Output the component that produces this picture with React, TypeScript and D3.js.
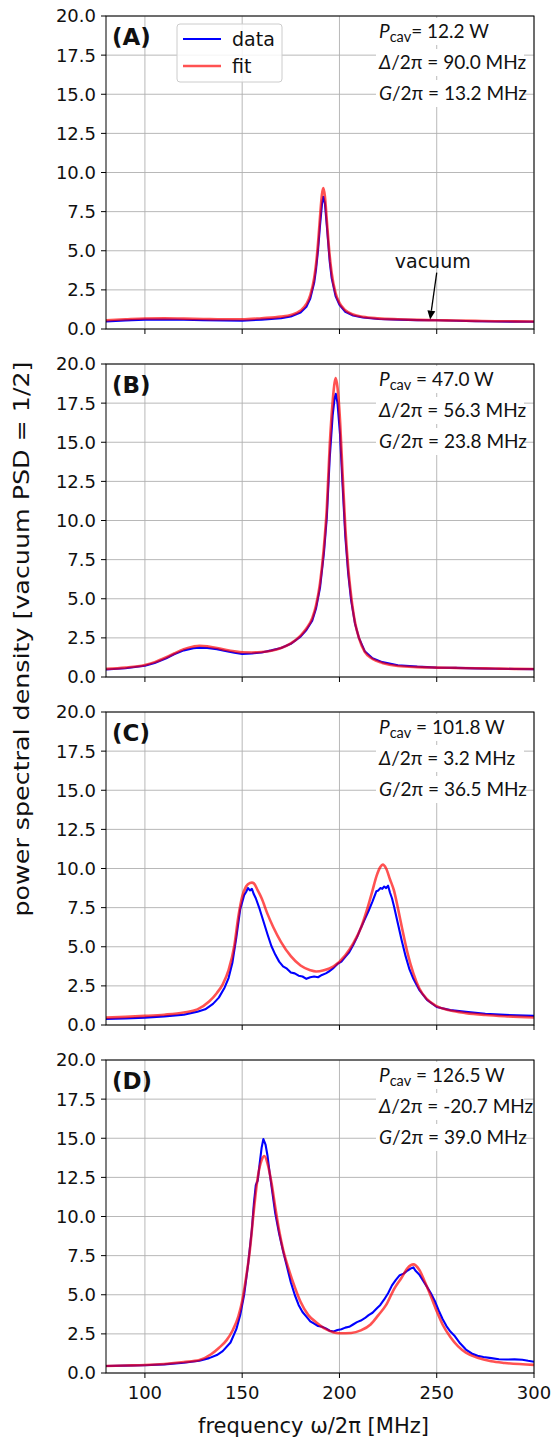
import React from 'react';
import * as d3 from 'd3';

// ---------- data ----------
const xTicks = [100, 150, 200, 250, 300];
const yTicks = [0, 2.5, 5, 7.5, 10, 12.5, 15, 17.5, 20];
const panelLabels = ['(A)', '(B)', '(C)', '(D)'];
const pcavValues = ['12.2', '47.0', '101.8', '126.5'];
const deltaValues = ['90.0', '56.3', '3.2', '-20.7'];
const gValues = ['13.2', '23.8', '36.5', '39.0'];

const fitFreqA = [80, 90, 100, 110, 120, 130, 140, 150, 160, 170, 175, 180, 183, 185, 187, 188, 189, 190, 191, 191.7, 192.5, 193.5, 195, 196, 198, 200, 203, 207, 212, 220, 230, 240, 250, 260, 270, 280, 290, 300];
const fitA = [0.56, 0.62, 0.67, 0.68, 0.66, 0.64, 0.62, 0.62, 0.69, 0.79, 0.9, 1.18, 1.6, 2.16, 3.26, 4.19, 5.5, 7.15, 8.6, 9.0, 8.5, 6.95, 4.65, 3.58, 2.3, 1.67, 1.2, 0.93, 0.78, 0.68, 0.62, 0.58, 0.56, 0.54, 0.52, 0.5, 0.49, 0.48];
const dataFreqA = fitFreqA;
const dataA = [0.48, 0.55, 0.6, 0.61, 0.59, 0.56, 0.54, 0.53, 0.6, 0.69, 0.8, 1.05, 1.42, 1.95, 2.95, 3.85, 5.05, 6.6, 7.95, 8.45, 8.05, 6.6, 4.3, 3.25, 2.1, 1.55, 1.1, 0.86, 0.73, 0.64, 0.6, 0.57, 0.56, 0.53, 0.5, 0.48, 0.47, 0.46];

const fitFreqB = [80, 90, 100, 105, 111, 115, 120, 125, 128, 132, 137, 142, 146, 150, 155, 160, 165, 170, 175, 180, 183, 186, 188, 190, 192, 193.5, 195, 196.5, 197.5, 198.1, 199, 200.3, 201.5, 203, 204.5, 206, 208, 210, 213, 217, 222, 230, 240, 250, 260, 270, 280, 290, 300];
const fitB = [0.52, 0.6, 0.77, 0.95, 1.26, 1.5, 1.78, 1.95, 2.0, 1.97, 1.85, 1.72, 1.64, 1.58, 1.57, 1.6, 1.68, 1.85, 2.15, 2.65, 3.1, 3.75, 4.6, 6.0, 8.3, 10.8, 14.8, 17.6, 18.8, 19.1, 18.5, 16.4, 13.3, 9.6, 7.0, 5.2, 3.5, 2.5, 1.6, 1.15, 0.9, 0.7, 0.63, 0.6, 0.58, 0.56, 0.54, 0.52, 0.51];
const dataFreqB = fitFreqB;
const dataB = [0.48, 0.56, 0.72, 0.9, 1.2, 1.45, 1.7, 1.84, 1.87, 1.85, 1.78, 1.65, 1.55, 1.47, 1.5, 1.57, 1.7, 1.85, 2.12, 2.58, 3.0, 3.6, 4.4, 5.7, 7.9, 10.2, 14.0, 16.7, 17.8, 18.1, 17.5, 15.5, 12.5, 9.0, 6.6, 4.9, 3.4, 2.5, 1.65, 1.2, 0.95, 0.75, 0.66, 0.6, 0.58, 0.55, 0.53, 0.51, 0.5];

const fitFreqC = [80, 90, 100, 110, 120, 127, 133, 137, 140, 143, 146, 148, 150, 152, 154, 155, 156, 158, 160, 163, 166, 170, 175, 180, 185, 188, 192, 197, 203, 207, 211, 214, 217, 219, 221, 222.3, 224, 226, 228, 230, 232, 235, 238, 241, 245, 250, 257, 265, 275, 285, 300];
const fitC = [0.47, 0.52, 0.58, 0.66, 0.8, 1.0, 1.5, 2.05, 2.6, 3.5, 5.1, 6.9, 8.2, 8.85, 9.08, 9.1, 9.05, 8.6, 8.1, 7.1, 6.25, 5.3, 4.4, 3.8, 3.5, 3.42, 3.5, 3.75, 4.45, 5.2, 6.2, 7.3, 8.6, 9.5, 10.1, 10.25, 10.0, 9.3, 8.6, 7.5, 6.3, 4.6, 3.3, 2.35, 1.65, 1.2, 0.92, 0.76, 0.64, 0.56, 0.48];
const dataFreqC = [80, 90, 100, 110, 120, 127, 131, 135, 138, 141, 143, 145, 147, 149, 151, 152, 153, 154, 155, 156, 157, 159, 161, 163, 165, 167, 169, 171, 173, 175, 177, 179, 181, 183, 185, 187, 189, 191, 193, 195, 197, 199, 201, 203, 205, 207, 209, 211, 213, 215, 217, 219, 220, 221, 222, 223, 224, 225, 226, 227, 228, 230, 232, 234, 236, 238, 241, 245, 250, 257, 265, 275, 285, 300];
const dataC = [0.38, 0.42, 0.47, 0.55, 0.66, 0.85, 1.0, 1.35, 1.75, 2.4, 3.0, 4.0, 5.6, 7.4, 8.3, 8.5, 8.75, 8.6, 8.7, 8.35, 8.1, 7.4, 6.6, 5.8, 5.05, 4.5, 4.05, 3.75, 3.6, 3.35, 3.3, 3.15, 3.1, 2.95, 3.05, 3.1, 3.05, 3.2, 3.3, 3.45, 3.65, 3.9, 4.05, 4.35, 4.65, 5.1, 5.6, 6.2, 6.75, 7.3, 7.9, 8.55, 8.6, 8.75, 8.7, 8.85, 8.75, 8.9, 8.45, 8.1, 7.6, 6.5, 5.4, 4.4, 3.55, 2.95, 2.25, 1.6, 1.15, 0.95, 0.84, 0.72, 0.65, 0.58];

const fitFreqD = [80, 90, 100, 110, 120, 128, 134, 138, 142, 145, 148, 150, 152, 154, 156, 158, 160, 161.4, 163, 165, 167, 169, 171, 174, 177, 180, 184, 188, 193, 200, 206, 211, 216, 220, 224, 228, 232, 235, 238, 241, 244, 247, 250, 253, 257, 261, 265, 271, 278, 285, 300];
const fitD = [0.45, 0.48, 0.51, 0.58, 0.7, 0.83, 1.2, 1.6, 2.1, 2.7, 3.6, 4.6, 6.1, 7.9, 10.4, 12.5, 13.6, 13.87, 13.4, 12.2, 10.6, 9.1, 7.9, 6.6, 5.5, 4.55, 3.7, 3.25, 2.8, 2.54, 2.56, 2.72, 3.1, 3.7, 4.35, 5.35, 6.1, 6.7, 6.94, 6.6, 5.8, 4.9, 3.95, 3.1, 2.3, 1.7, 1.3, 0.97, 0.75, 0.64, 0.52];
const dataFreqD = [80, 90, 100, 110, 120, 128, 133, 137, 140, 144, 147, 149, 151, 153, 155, 156, 157, 158, 159, 160, 160.9, 162, 163, 164, 165, 167, 169, 171, 173, 175, 177, 179, 181, 183, 185, 187, 189, 191, 193, 195, 197, 199, 201, 203, 205, 207, 209, 211, 213, 215, 217, 219, 221, 223, 225, 227, 229, 231, 233, 235, 237, 238, 239, 241, 243, 245, 247, 249, 251, 253, 255, 257, 259, 262, 265, 268, 271, 274, 278, 282, 286, 290, 294, 297, 300];
const dataD = [0.45, 0.47, 0.5, 0.55, 0.65, 0.78, 0.95, 1.15, 1.4, 1.95, 2.8, 3.7, 5.0, 6.9, 9.2, 10.8, 12.0, 12.3, 13.4, 14.4, 14.95, 14.6, 13.9, 12.9, 12.0, 10.2, 8.9, 7.8, 6.8, 5.8, 5.0, 4.35, 3.9, 3.6, 3.3, 3.15, 3.0, 2.95, 2.85, 2.7, 2.65, 2.75, 2.8, 2.9, 2.95, 3.1, 3.25, 3.35, 3.5, 3.7, 3.85, 4.1, 4.35, 4.7, 5.1, 5.6, 5.95, 6.25, 6.35, 6.55, 6.7, 6.75, 6.55, 6.3, 5.9, 5.5, 5.1, 4.6, 4.0, 3.45, 3.0, 2.65, 2.4, 1.9, 1.5, 1.25, 1.1, 1.02, 0.95, 0.88, 0.86, 0.87, 0.85, 0.78, 0.72];

// ---------- layout ----------
const W = 553;
const H = 1440;
const left = 106;
const right = 534;
const panelTops = [16, 364, 712, 1060];
const panelH = 313;
const tickFont = 'DejaVu Sans';
const annoFont = 'Lato';
const ink = '#111';

const panels = [
  { dataF: dataFreqA, data: dataA, fitF: fitFreqA, fit: fitA, eq: '= ' },
  { dataF: dataFreqB, data: dataB, fitF: fitFreqB, fit: fitB, eq: ' = ' },
  { dataF: dataFreqC, data: dataC, fitF: fitFreqC, fit: fitC, eq: ' = ' },
  { dataF: dataFreqD, data: dataD, fitF: fitFreqD, fit: fitD, eq: ' = ' },
];

const x = d3.scaleLinear().domain([80, 300]).range([left, right]);

function Panel({ i }: { i: number }) {
  const top = panelTops[i];
  const p = panels[i];
  const y = d3.scaleLinear().domain([0, 20]).range([top + panelH, top]);
  const fitLine = d3
    .line<number>()
    .x((_, k) => x(p.fitF[k]))
    .y((d) => y(d))
    .curve(d3.curveMonotoneX);
  const dataLine = d3
    .line<number>()
    .x((_, k) => x(p.dataF[k]))
    .y((d) => y(d));
  const clipId = `clip${i}`;
  const annoX = 379;
  const lineY = [top + 22, top + 53, top + 84];
  return (
    <g>
      <defs>
        <clipPath id={clipId}>
          <rect x={left} y={top} width={right - left} height={panelH} />
        </clipPath>
      </defs>
      {xTicks.map((t) => (
        <line key={'gx' + t} x1={x(t)} x2={x(t)} y1={top} y2={top + panelH} stroke="#b0b0b0" strokeWidth={0.9} />
      ))}
      {yTicks.map((t) => (
        <line key={'gy' + t} x1={left} x2={right} y1={y(t)} y2={y(t)} stroke="#b0b0b0" strokeWidth={0.9} />
      ))}
      {lineY.map((ly, k) => (
        <rect key={'bx' + k} x={annoX - 3} y={ly - 20} width={148} height={27} fill="white" />
      ))}
      <g clipPath={`url(#${clipId})`}>
        <path d={dataLine(p.data) || ''} fill="none" stroke="#0000ff" strokeWidth={2.1} strokeLinejoin="round" />
        <path d={fitLine(p.fit) || ''} fill="none" stroke="red" strokeOpacity={0.68} strokeWidth={2.6} />
      </g>
      <rect x={left} y={top} width={right - left} height={panelH} fill="none" stroke="black" strokeWidth={1} />
      {yTicks.map((t) => (
        <g key={'yt' + t}>
          <line x1={left - 5} x2={left} y1={y(t)} y2={y(t)} stroke="black" strokeWidth={1} />
          <text x={left - 10} y={y(t)} dy="0.36em" textAnchor="end" fontFamily={tickFont} fontSize={18} fill={ink}>
            {d3.format('.1f')(t)}
          </text>
        </g>
      ))}
      {xTicks.map((t) => (
        <g key={'xt' + t}>
          <line x1={x(t)} x2={x(t)} y1={top + panelH} y2={top + panelH + 5} stroke="black" strokeWidth={1} />
          {i === 3 && (
            <text x={x(t)} y={top + panelH + 26} textAnchor="middle" fontFamily={tickFont} fontSize={18} fill={ink}>
              {t}
            </text>
          )}
        </g>
      ))}
      <text x={left + 6} y={top + 29} fontFamily={tickFont} fontWeight="bold" fontSize={23} fill={ink}>
        {panelLabels[i]}
      </text>
      <g fontFamily={annoFont} fontSize={19} fill={ink} style={{ whiteSpace: 'pre' }}>
        <text x={annoX} y={lineY[0]}>
          <tspan fontStyle="italic">P</tspan>
          <tspan fontSize={14.5} dy={4}>cav</tspan>
          <tspan dy={-4}>{p.eq + pcavValues[i] + ' W'}</tspan>
        </text>
        <text x={annoX} y={lineY[1]}>
          <tspan fontStyle="italic">Δ</tspan>
          <tspan>{'/2π = ' + deltaValues[i] + ' MHz'}</tspan>
        </text>
        <text x={annoX} y={lineY[2]}>
          <tspan fontStyle="italic">G</tspan>
          <tspan>{'/2π = ' + gValues[i] + ' MHz'}</tspan>
        </text>
      </g>
    </g>
  );
}

export default function App() {
  const yA = d3.scaleLinear().domain([0, 20]).range([panelTops[0] + panelH, panelTops[0]]);
  const tipX = x(246.6);
  const tipY = yA(0.6);
  const tailX = x(250);
  const tailY = yA(3.6);
  const ang = Math.atan2(tipY - tailY, tipX - tailX);
  const ah = 9;
  const aw = 4;
  const bx = tipX - ah * Math.cos(ang);
  const by = tipY - ah * Math.sin(ang);
  const head = `M${tipX},${tipY} L${bx + aw * Math.sin(ang)},${by - aw * Math.cos(ang)} L${bx - aw * Math.sin(ang)},${by + aw * Math.cos(ang)} Z`;
  return (
    <svg
      width={W}
      height={H}
      viewBox={`0 0 ${W} ${H}`}
      style={{ position: 'absolute', left: 0, top: 0, background: 'white' }}
    >
      <rect x={0} y={0} width={W} height={H} fill="white" />
      {panelTops.map((_, i) => (
        <Panel key={i} i={i} />
      ))}
      <g>
        <rect x={177} y={24} width={105} height={58} rx={3} fill="white" fillOpacity={0.85} stroke="#cccccc" strokeWidth={1} />
        <line x1={183} x2={221} y1={39} y2={39} stroke="#0000ff" strokeWidth={2.1} />
        <line x1={183} x2={221} y1={66} y2={66} stroke="red" strokeOpacity={0.68} strokeWidth={2.6} />
        <text x={232} y={39} dy="0.36em" fontFamily={tickFont} fontSize={19} fill={ink}>data</text>
        <text x={232} y={66} dy="0.36em" fontFamily={tickFont} fontSize={19} fill={ink}>fit</text>
      </g>
      <text x={tailX - 4} y={tailY - 5} textAnchor="middle" fontFamily={tickFont} fontSize={19} fill={ink}>vacuum</text>
      <line x1={tailX} y1={tailY} x2={bx} y2={by} stroke="black" strokeWidth={1.3} />
      <path d={head} fill="black" />
      <text
        transform={`translate(28.5, 639) rotate(-90)`}
        textAnchor="middle"
        fontFamily={tickFont}
        fontSize={22}
        textLength={555}
        lengthAdjust="spacingAndGlyphs"
        fill={ink}
      >
        power spectral density [vacuum PSD = 1/2]
      </text>
      <text
        x={313.5}
        y={1433}
        textAnchor="middle"
        fontFamily={tickFont}
        fontSize={22}
        textLength={231}
        lengthAdjust="spacingAndGlyphs"
        fill={ink}
      >
        frequency ω/2π [MHz]
      </text>
    </svg>
  );
}
